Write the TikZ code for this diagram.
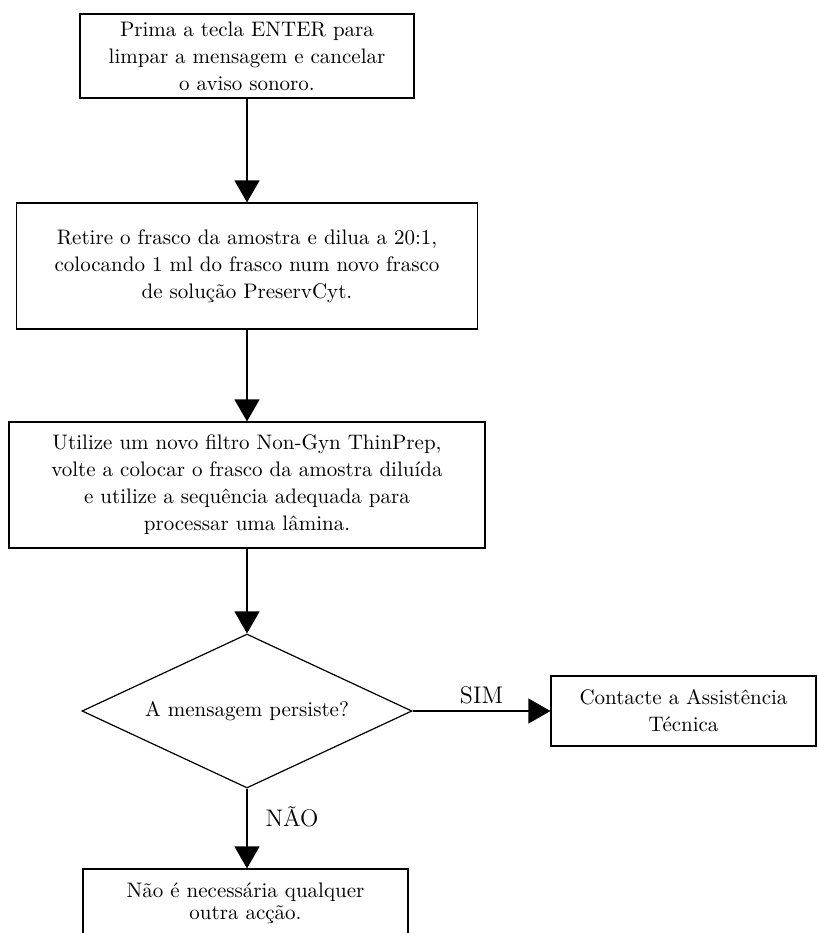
\documentclass[tikz,border=0pt]{standalone}
\usepackage{tikz}
\usetikzlibrary{shapes.geometric, arrows.meta, positioning}
\tikzset{
  block/.style={
    draw, rectangle, align=center, inner sep=2pt,
    font=\fontsize{10.5}{13.5}\selectfont,
    line width=0.6pt
  },
  decision/.style={
    draw, diamond, inner sep=0pt, shape aspect=2.14,
    minimum width=165pt, minimum height=77pt,
    font=\fontsize{10.5}{13.5}\selectfont,
    line width=0.6pt
  },
  arrow/.style={-{Triangle[length=11pt, width=12.5pt]}, line width=0.6pt},
  edgelabel/.style={font=\fontsize{12}{14}\selectfont, inner sep=3pt}
}

\begin{document}
\begin{tikzpicture}[x=0.5pt, y=-0.5pt]
  \useasboundingbox (0,0) rectangle (817,933);

  \node[block, minimum width=167pt, minimum height=42pt] (enter) at (247,56)
    {Prima a tecla ENTER para\\limpar a mensagem e cancelar\\o aviso sonoro.};
  \node[block, minimum width=230.5pt, minimum height=63pt] (retire) at (247,266)
    {Retire o frasco da amostra e dilua a 20:1,\\colocando 1 ml do frasco num novo frasco\\de solução PreservCyt.};
  \node[block, minimum width=238pt, minimum height=63pt] (filtro) at (247,485)
    {Utilize um novo filtro Non-Gyn ThinPrep,\\volte a colocar o frasco da amostra diluída\\e utilize a sequência adequada para\\processar uma lâmina.};
  \node[decision] (persiste) at (247,711) {A mensagem persiste?};
  \node[block, minimum width=132.5pt, minimum height=35pt] (assist) at (683.5,711)
    {Contacte a Assistência\\Técnica};
  \node[block, minimum width=162.5pt, minimum height=34pt,
        font=\fontsize{10.5}{11}\selectfont] (fim) at (245.5,903)
    {Não é necessária qualquer\\outra acção.};

  % main chain
  \draw[arrow] (enter) -- (retire);
  \draw[arrow] (retire) -- (filtro);
  \draw[arrow] (filtro) -- (persiste);

  % decision outputs
  \draw[arrow] (persiste.east) -- node[edgelabel, above] {SIM} (assist.west);
  \draw[arrow] (persiste.south) -- node[edgelabel, right=6pt, pos=0.35] {NÃO} (persiste.south |- fim.north);
\end{tikzpicture}
\end{document}
